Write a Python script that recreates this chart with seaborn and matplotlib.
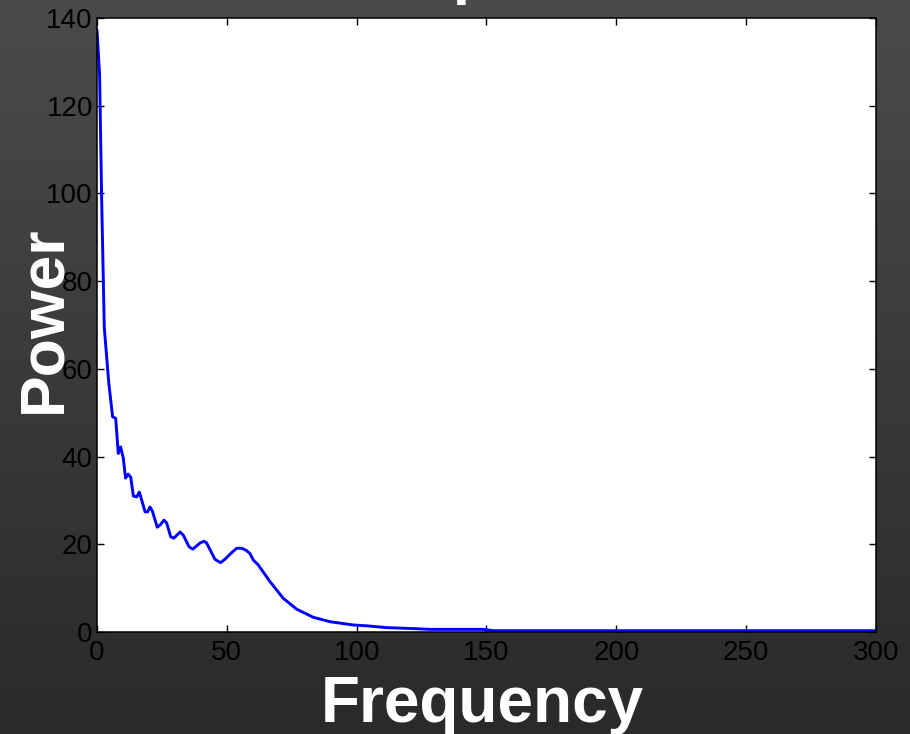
import numpy as np
import pandas as pd
import matplotlib
matplotlib.use("Agg")
import matplotlib.pyplot as plt
import seaborn as sns

# ---- data ----
freq = [0, 1.0, 1.8, 2.8, 4.5, 6.0, 7.2, 8.2, 9.1, 10.1, 11.0, 12.0, 13.0,
        14.0, 15.3, 16.3, 17.2, 18.5, 19.5, 20.4, 21.3, 23.2, 24.3, 25.8,
        26.8, 28.4, 29.6, 32.0, 33.2, 35.5, 36.9, 39.7, 41.2, 42.2, 45.4,
        47.6, 49.3, 51.5, 53.8, 55.7, 57.5, 58.9, 60.2, 62.1, 66.6, 71.7,
        76.9, 83.3, 89.7, 98.7, 104.0, 111.5, 123.1, 128.2, 148.7, 152.6,
        166.7, 200.0, 250.0, 300.0]
power = [137.3, 127.0, 98.5, 69.5, 57.0, 49.1, 48.7, 40.7, 42.2, 39.7, 35.1,
         36.0, 35.3, 31.0, 30.8, 31.9, 30.1, 27.4, 27.4, 28.5, 27.6, 23.9,
         24.4, 25.5, 24.9, 21.7, 21.4, 22.8, 22.1, 19.4, 18.9, 20.3, 20.7,
         20.3, 16.6, 15.8, 16.6, 17.9, 19.1, 19.1, 18.6, 17.9, 16.4, 15.3,
         11.5, 7.7, 5.2, 3.35, 2.35, 1.6, 1.4, 1.0, 0.75, 0.6, 0.6, 0.3,
         0.3, 0.3, 0.3, 0.3]
xticks = [0, 50, 100, 150, 200, 250, 300]
yticks = [0, 20, 40, 60, 80, 100, 120, 140]
x_label = "Frequency"
y_label = "Power"
title = "Power Spectrum"

df = pd.DataFrame({"Frequency": freq, "Power": power})

sns.set_style("ticks")
plt.rcParams["font.family"] = ["Liberation Sans", "DejaVu Sans"]

W, H = 910, 734
fig = plt.figure(figsize=(W / 100, H / 100), dpi=100)

# gradient background
bg = fig.add_axes([0, 0, 1, 1], zorder=-10)
grad = np.linspace(0, 1, 256).reshape(-1, 1)
top = np.array([0x4b, 0x4b, 0x4b]) / 255.0
bot = np.array([0x2a, 0x2a, 0x2a]) / 255.0
img = top[None, None, :] * (1 - grad[:, :, None]) + bot[None, None, :] * grad[:, :, None]
bg.imshow(img, aspect="auto", extent=[0, 1, 0, 1], origin="upper")
bg.set_axis_off()

L, R, T, B = 97, 876, 18, 632
ax = fig.add_axes([L / W, (H - B) / H, (R - L) / W, (B - T) / H])
ax.set_facecolor("white")

sns.lineplot(data=df, x="Frequency", y="Power", color="#0000ff",
             linewidth=2.1, ax=ax, sort=False)

ax.set_xlim(0, 300)
ax.set_ylim(0, 140)
ax.set_xticks(xticks)
ax.set_yticks(yticks)
ax.set_xlabel("")
ax.set_ylabel("")
for s in ax.spines.values():
    s.set_visible(True)
    s.set_color("black")
    s.set_linewidth(1.1)
ax.tick_params(direction="in", length=5, width=1, top=True, right=True,
               labelsize=20, colors="black", labelcolor="black")
ax.tick_params(axis="x", pad=6)
ax.tick_params(axis="y", pad=3)

fig.text(482 / W, (H - 722) / H, x_label, color="white", fontsize=46,
         fontweight="bold", ha="center", va="baseline")
fig.text(44 / W, (H - 319.5) / H, y_label, color="white", fontsize=45,
         fontweight="bold", ha="center", va="center", rotation=90)
fig.text(453 / W, 1 + 8 / H, title, color="white", fontsize=45,
         fontweight="bold", ha="center", va="baseline")

fig.savefig("out.png", dpi=100)
